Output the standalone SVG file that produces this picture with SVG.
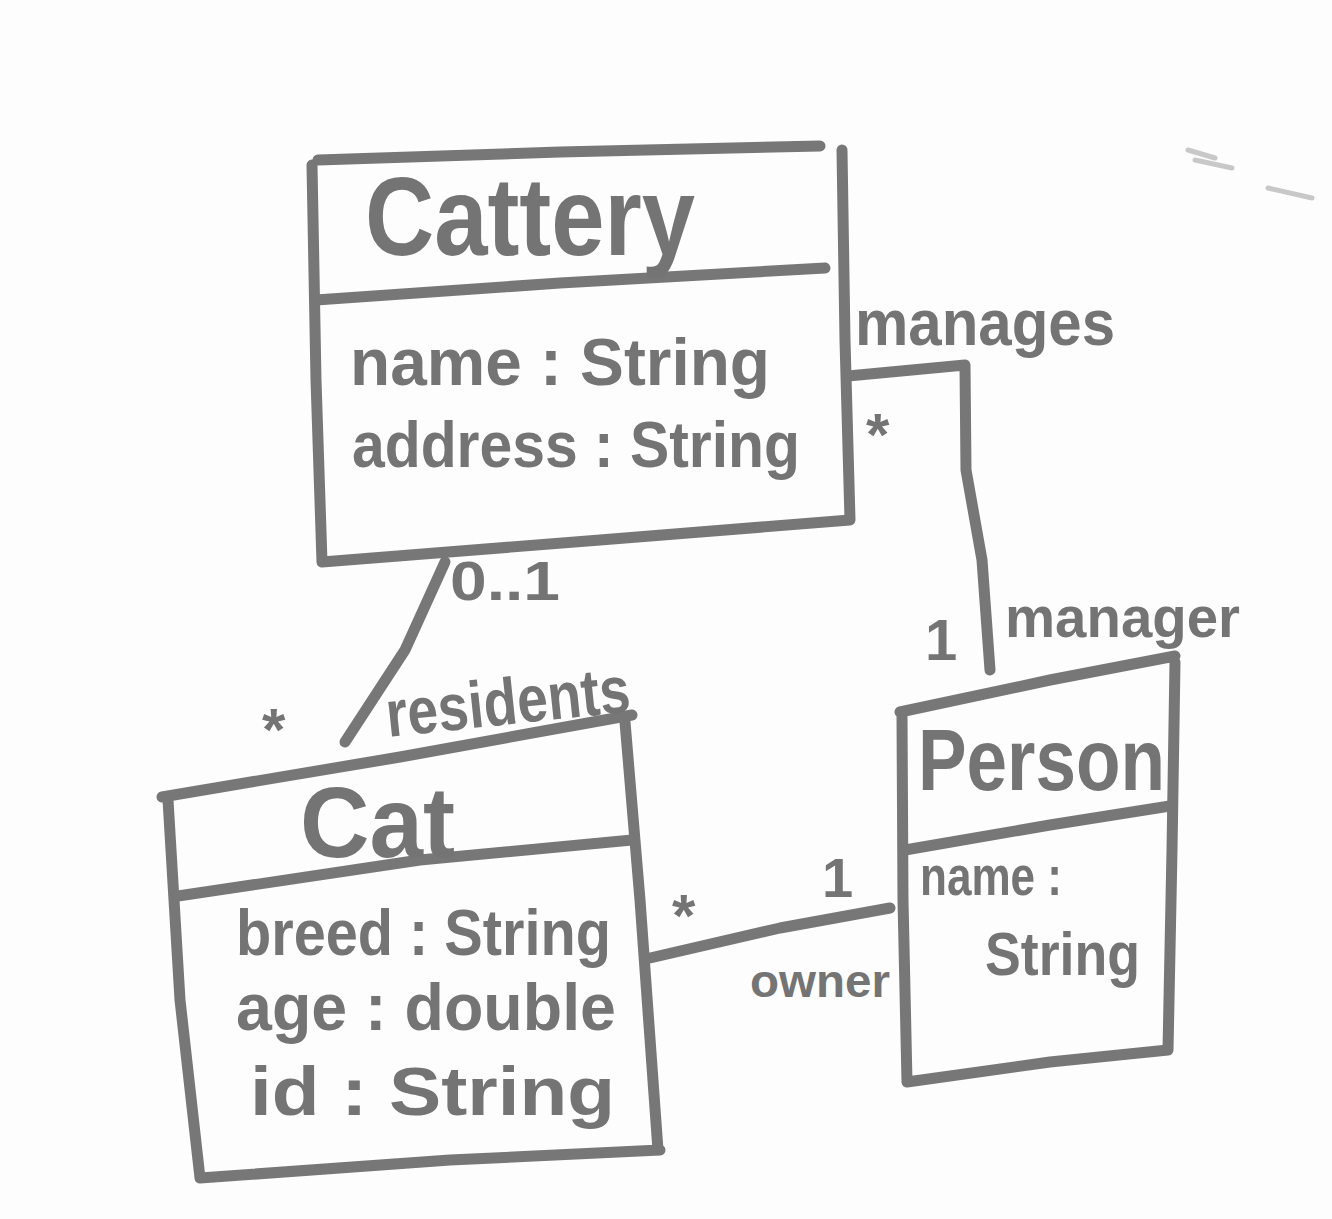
<svg xmlns="http://www.w3.org/2000/svg" width="1332" height="1219" viewBox="0 0 1332 1219">
<style>
.ln{fill:none;stroke:#777;stroke-width:11;stroke-linecap:round;stroke-linejoin:round}
.t{font-family:"Liberation Sans","DejaVu Sans",sans-serif;font-weight:bold;fill:#747474}
.faint{fill:none;stroke:#c8c8c8;stroke-width:5;stroke-linecap:round}
</style>
<rect width="1332" height="1219" fill="#fdfdfd"/>
<g id="stray">
<path class="faint" d="M1188 150 L1215 158 M1195 160 L1232 168 M1268 188 L1312 198"/>
</g>
<g id="cattery">
<path class="ln" d="M318 160 L560 152 L820 146 M312 165 L316 380 L322 562 M322 562 L600 540 L850 520 M842 150 L845 340 L850 520"/>
<path class="ln" d="M316 300 L560 283 L825 268"/>
<text class="t" x="365" y="255" font-size="112" textLength="330" lengthAdjust="spacingAndGlyphs">Cattery</text>
<text class="t" x="350" y="385" font-size="66" textLength="420" lengthAdjust="spacingAndGlyphs">name : String</text>
<text class="t" x="352" y="467" font-size="64" textLength="448" lengthAdjust="spacingAndGlyphs">address : String</text>
</g>
<g id="cat">
<path class="ln" d="M162 797 L400 757 L632 715 M168 800 L180 1000 L200 1178 M200 1178 L450 1160 L660 1150 M625 722 L640 900 L658 1150"/>
<path class="ln" d="M178 896 L420 860 L632 840"/>
<text class="t" x="300" y="857" font-size="100" textLength="155" lengthAdjust="spacingAndGlyphs">Cat</text>
<text class="t" x="236" y="955" font-size="64" textLength="375" lengthAdjust="spacingAndGlyphs">breed : String</text>
<text class="t" x="236" y="1030" font-size="66" textLength="380" lengthAdjust="spacingAndGlyphs">age : double</text>
<text class="t" x="250" y="1115" font-size="68" textLength="365" lengthAdjust="spacingAndGlyphs">id : String</text>
</g>
<g id="person">
<path class="ln" d="M900 712 L1050 680 L1175 656 M902 715 L903 900 L907 1082 M907 1082 L1050 1062 L1168 1050 M1175 662 L1172 850 L1168 1050"/>
<path class="ln" d="M905 850 L1050 825 L1170 806"/>
<text class="t" x="918" y="790" font-size="88" textLength="247" lengthAdjust="spacingAndGlyphs">Person</text>
<text class="t" x="920" y="895" font-size="56" textLength="142" lengthAdjust="spacingAndGlyphs">name :</text>
<text class="t" x="985" y="975" font-size="62" textLength="155" lengthAdjust="spacingAndGlyphs">String</text>
</g>
<g id="connectors">
<path class="ln" d="M848 376 L965 365 L966 470 L982 560 L990 670"/>
<path class="ln" d="M445 562 L405 650 L345 742"/>
<path class="ln" d="M650 958 L780 928 L890 908"/>
</g>
<g id="labels">
<text class="t" x="855" y="345" font-size="64" textLength="260" lengthAdjust="spacingAndGlyphs">manages</text>
<text class="t" x="866" y="455" font-size="60">*</text>
<text class="t" x="1005" y="637" font-size="58" textLength="235" lengthAdjust="spacingAndGlyphs">manager</text>
<text class="t" x="925" y="660" font-size="58">1</text>
<text class="t" x="450" y="600" font-size="56" textLength="110" lengthAdjust="spacingAndGlyphs">0..1</text>
<text class="t" x="262" y="750" font-size="60">*</text>
<text class="t" x="385" y="725" font-size="66" textLength="245" lengthAdjust="spacingAndGlyphs" transform="rotate(-6 500 700)">residents</text>
<text class="t" x="672" y="936" font-size="60">*</text>
<text class="t" x="822" y="897" font-size="56">1</text>
<text class="t" x="750" y="997" font-size="46" textLength="140" lengthAdjust="spacingAndGlyphs">owner</text>
</g>
</svg>
